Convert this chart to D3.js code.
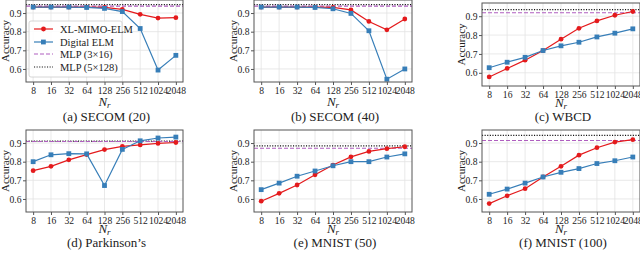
<!DOCTYPE html>
<html>
<head>
<meta charset="utf-8">
<script src="https://cdn.jsdelivr.net/npm/d3@7"></script>
<style>
  body { margin: 0; background: #fff; }
  text { font-family: "Liberation Serif", "DejaVu Serif", serif; fill: #222; }
</style>
</head>
<body>
<div id="chart"></div>
<script>
// x categories (N_r)
var nr = ["8", "16", "32", "64", "128", "256", "512", "1024", "2048"]
var yTicks = [0.6, 0.7, 0.8, 0.9]
var captions = ["(a) SECOM (20)", "(b) SECOM (40)", "(c) WBCD", "(d) Parkinson\u2019s", "(e) MNIST (50)", "(f) MNIST (100)"]
var legendNames = ["XL-MIMO-ELM", "Digital ELM", "MLP (3\u00d716)", "MLP (5\u00d7128)"]

// XL-MIMO-ELM accuracy per dataset
var elmSecom20 = [0.932, 0.932, 0.932, 0.932, 0.930, 0.920, 0.893, 0.873, 0.875]
var elmSecom40 = [0.932, 0.932, 0.932, 0.932, 0.930, 0.917, 0.855, 0.810, 0.868]
var elmWbcd = [0.578, 0.623, 0.667, 0.718, 0.778, 0.836, 0.875, 0.905, 0.925]
var elmPark = [0.752, 0.775, 0.810, 0.838, 0.865, 0.882, 0.890, 0.898, 0.903]
var elmMnist50 = [0.588, 0.630, 0.675, 0.730, 0.782, 0.826, 0.855, 0.870, 0.880]
var elmMnist100 = [0.575, 0.617, 0.655, 0.718, 0.775, 0.835, 0.875, 0.905, 0.918]

// Digital ELM accuracy per dataset
var digSecom20 = [0.932, 0.932, 0.932, 0.930, 0.925, 0.908, 0.817, 0.594, 0.673]
var digSecom40 = [0.932, 0.932, 0.932, 0.930, 0.923, 0.898, 0.805, 0.545, 0.600]
var digWbcd = [0.627, 0.656, 0.682, 0.718, 0.743, 0.762, 0.790, 0.810, 0.833]
var digPark = [0.800, 0.837, 0.843, 0.842, 0.672, 0.866, 0.912, 0.927, 0.932]
var digMnist50 = [0.650, 0.685, 0.722, 0.750, 0.778, 0.800, 0.800, 0.825, 0.842]
var digMnist100 = [0.625, 0.653, 0.685, 0.718, 0.743, 0.763, 0.790, 0.805, 0.825]

// MLP reference lines
var mlpSmall = [0.937, 0.937, 0.918, 0.908, 0.872, 0.914]
var mlpLarge = [0.945, 0.945, 0.935, 0.910, 0.885, 0.941]

var colRed = "#e41a1c", colBlue = "#377eb8", colPurple = "#b05fc0"

var width = 640, height = 253
var svg = d3.select("#chart").append("svg")
	.attr("width", width)
	.attr("height", height)

// panel boxes (pixels)
var boxes = [
	{l: 26, r: 183, t: 0, b: 82},
	{l: 254, r: 412, t: 0, b: 82},
	{l: 482, r: 640, t: 3, b: 86},
	{l: 26, r: 183, t: 130, b: 212},
	{l: 254, r: 412, t: 130, b: 212},
	{l: 482, r: 640, t: 130, b: 212}
]
var nrY = [106, 106, 107, 233, 233, 233]
var capY = [121, 121, 121, 247, 247, 247]

var elmAll = [elmSecom20, elmSecom40, elmWbcd, elmPark, elmMnist50, elmMnist100]
var digAll = [digSecom20, digSecom40, digWbcd, digPark, digMnist50, digMnist100]

for (var i = 0; i < 6; i++) {
	drawPanel(i)
}

function drawPanel(i){
	var bx = boxes[i]
	var g = svg.append("g")

	var x = d3.scalePoint().domain(nr).range([bx.l, bx.r]).padding(0.4)
	var y = d3.scaleLinear().domain([0.53, 0.97]).range([bx.b, bx.t])

	// grid
	g.selectAll(".vg").data(nr).enter().append("line")
		.attr("x1", function(d){return x(d)}).attr("x2", function(d){return x(d)})
		.attr("y1", bx.t).attr("y2", bx.b)
		.attr("stroke", "#e3e3e3").attr("stroke-width", 0.8)
	g.selectAll(".hg").data(yTicks).enter().append("line")
		.attr("x1", bx.l).attr("x2", bx.r)
		.attr("y1", function(d){return y(d)}).attr("y2", function(d){return y(d)})
		.attr("stroke", "#e3e3e3").attr("stroke-width", 0.8)

	// axes
	var xAxis = g.append("g").attr("transform", "translate(0," + bx.b + ")")
		.call(d3.axisBottom(x).tickSize(3).tickPadding(2))
	var yAxis = g.append("g").attr("transform", "translate(" + bx.l + ",0)")
		.call(d3.axisLeft(y).tickValues(yTicks).tickFormat(d3.format(".1f")).tickSize(3).tickPadding(1.5))
	;[xAxis, yAxis].forEach(function(a){
		a.select(".domain").remove()
		a.selectAll("line").attr("stroke", "#555")
		a.selectAll("text").attr("fill", "#222").attr("font-size", 9.6)
			.style("font-family", "Liberation Serif")
	})

	// MLP lines
	g.append("line").attr("x1", bx.l).attr("x2", bx.r)
		.attr("y1", y(mlpLarge[i])).attr("y2", y(mlpLarge[i]))
		.attr("stroke", "#111").attr("stroke-width", 1.2).attr("stroke-dasharray", "1.1,1.5")
	g.append("line").attr("x1", bx.l).attr("x2", bx.r)
		.attr("y1", y(mlpSmall[i])).attr("y2", y(mlpSmall[i]))
		.attr("stroke", colPurple).attr("stroke-width", 1.1).attr("stroke-dasharray", "4,2")

	var line = d3.line().x(function(d, k){return x(nr[k])}).y(function(d){return y(d)})

	// XL-MIMO-ELM
	g.append("path").datum(elmAll[i]).attr("d", line)
		.attr("fill", "none").attr("stroke", colRed).attr("stroke-width", 1.2)
	g.selectAll(".ec").data(elmAll[i]).enter().append("circle")
		.attr("cx", function(d, k){return x(nr[k])}).attr("cy", function(d){return y(d)})
		.attr("r", 2.4).attr("fill", colRed)

	// Digital ELM
	g.append("path").datum(digAll[i]).attr("d", line)
		.attr("fill", "none").attr("stroke", colBlue).attr("stroke-width", 1.2)
	g.selectAll(".ds").data(digAll[i]).enter().append("rect")
		.attr("x", function(d, k){return x(nr[k]) - 2.4}).attr("y", function(d){return y(d) - 2.4})
		.attr("width", 4.8).attr("height", 4.8).attr("fill", colBlue)

	// frame
	g.append("rect").attr("x", bx.l).attr("y", bx.t)
		.attr("width", bx.r - bx.l).attr("height", bx.b - bx.t)
		.attr("fill", "none").attr("stroke", "#555").attr("stroke-width", 1)

	// y label
	g.append("text")
		.attr("transform", "translate(" + (bx.l - 17) + "," + ((bx.t + bx.b) / 2) + ") rotate(-90)")
		.attr("text-anchor", "middle").attr("font-size", 11)
		.text("Accuracy")

	// x label N_r
	var xl = g.append("text")
		.attr("x", (bx.l + bx.r) / 2).attr("y", nrY[i])
		.attr("text-anchor", "middle").attr("font-size", 13)
	xl.append("tspan").attr("font-style", "italic").text("N")
	xl.append("tspan").attr("font-style", "italic").attr("font-size", 9).attr("dy", 2).text("r")

	// caption
	g.append("text")
		.attr("x", (bx.l + bx.r) / 2 + 2).attr("y", capY[i])
		.attr("text-anchor", "middle").attr("font-size", 13)
		.text(captions[i])

	if (i == 0) drawLegend(g)
}

function drawLegend(g){
	var lx = 29, ly = 21
	g.append("rect").attr("x", lx).attr("y", ly).attr("width", 93).attr("height", 56)
		.attr("rx", 2).attr("fill", "#fff").attr("fill-opacity", 0.85)
		.attr("stroke", "#ccc").attr("stroke-width", 0.8)
	var rows = [29, 42, 54, 67]
	rows.forEach(function(ry, k){
		var s = g.append("line").attr("x1", lx + 5).attr("x2", lx + 24)
			.attr("y1", ry).attr("y2", ry).attr("stroke-width", 1.2)
		if (k == 0) {
			s.attr("stroke", colRed)
			g.append("circle").attr("cx", lx + 14.5).attr("cy", ry).attr("r", 2.4).attr("fill", colRed)
		} else if (k == 1) {
			s.attr("stroke", colBlue)
			g.append("rect").attr("x", lx + 12).attr("y", ry - 2.4).attr("width", 4.8).attr("height", 4.8).attr("fill", colBlue)
		} else if (k == 2) {
			s.attr("stroke", colPurple).attr("stroke-dasharray", "4,2")
		} else {
			s.attr("stroke", "#111").attr("stroke-dasharray", "1.1,1.5")
		}
		g.append("text").attr("x", lx + 31).attr("y", ry + 3.5)
			.attr("font-size", 10.5).text(legendNames[k])
	})
}
</script>
</body>
</html>
